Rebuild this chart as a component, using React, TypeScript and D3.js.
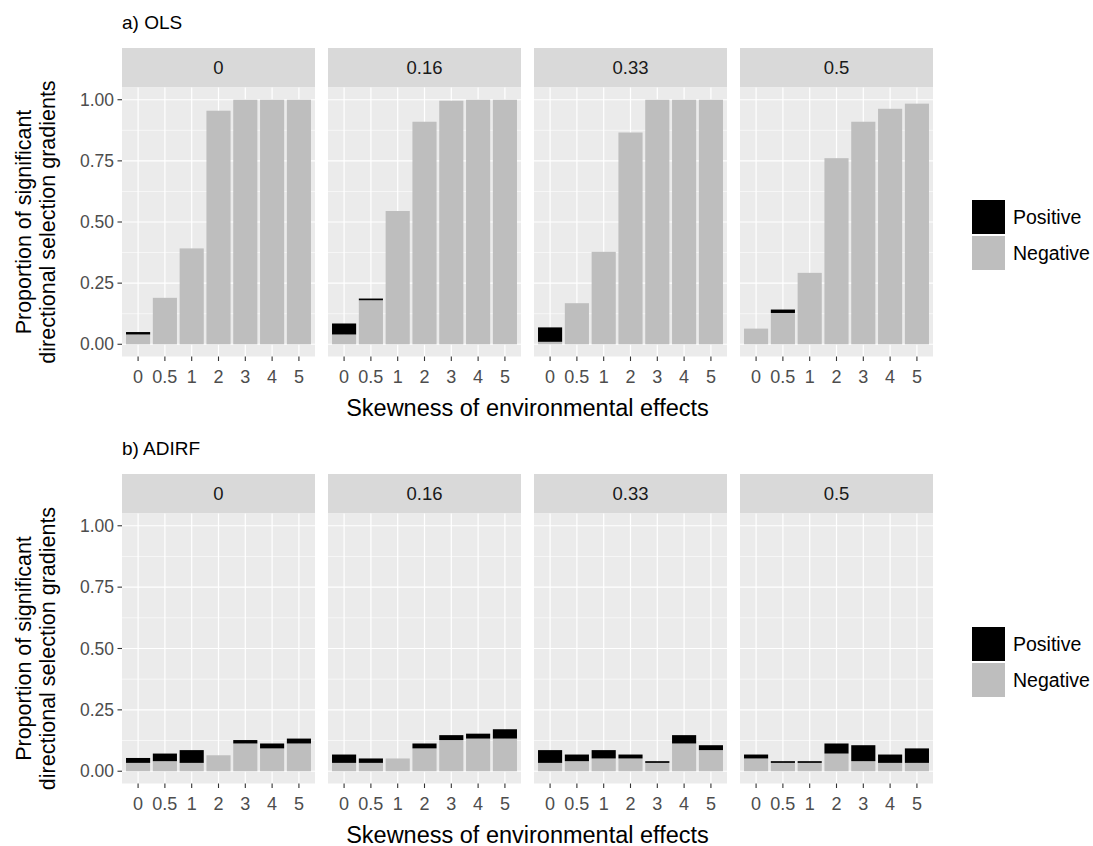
import React from "react";
import * as d3 from "d3";

const skewLevels = ["0", "0.5", "1", "2", "3", "4", "5"];
const facetLabels = ["0", "0.16", "0.33", "0.5"];
const yTicks = [0, 0.25, 0.5, 0.75, 1.0];
const yMinor = [0.125, 0.375, 0.625, 0.875];
const legendLabels = ["Positive", "Negative"];

// OLS: per facet, 7 skewness levels
const olsNegative = [
  [0.04, 0.19, 0.392, 0.955, 1.0, 1.0, 1.0],
  [0.04, 0.18, 0.545, 0.91, 0.996, 1.0, 1.0],
  [0.01, 0.168, 0.378, 0.866, 1.0, 1.0, 1.0],
  [0.064, 0.128, 0.292, 0.761, 0.91, 0.963, 0.984],
];
const olsPositive = [
  [0.01, 0, 0, 0, 0, 0, 0],
  [0.045, 0.007, 0, 0, 0, 0, 0],
  [0.059, 0, 0, 0, 0, 0, 0],
  [0, 0.014, 0, 0, 0, 0, 0],
];
// ADIRF
const adirfNegative = [
  [0.034, 0.041, 0.034, 0.065, 0.113, 0.093, 0.113],
  [0.034, 0.034, 0.052, 0.093, 0.127, 0.133, 0.133],
  [0.034, 0.041, 0.052, 0.052, 0.034, 0.113, 0.086],
  [0.052, 0.034, 0.034, 0.072, 0.041, 0.034, 0.034],
];
const adirfPositive = [
  [0.02, 0.031, 0.052, 0, 0.014, 0.02, 0.02],
  [0.034, 0.018, 0, 0.02, 0.02, 0.02, 0.038],
  [0.052, 0.027, 0.034, 0.016, 0.007, 0.034, 0.02],
  [0.016, 0.007, 0.007, 0.041, 0.065, 0.034, 0.059],
];

const FONT = "'Liberation Sans', Arial, sans-serif";
const NEG = "#BEBEBE";
const POS = "#000000";

const panelX0 = 122;
const panelW = 193;
const panelGap = 13;

function Block({ title, titleY, stripTop, plotTop, plotBottom, neg, pos, legendY }) {
  const y = d3.scaleLinear().domain([-0.05, 1.05]).range([plotBottom, plotTop]);
  const x = d3.scalePoint().domain(skewLevels).range([0, panelW]).padding(0.6);
  const step = x.step();
  const bw = step * 0.9;
  const stripH = plotTop - stripTop;
  const midY = (plotTop + plotBottom) / 2;
  const plotLeft = panelX0;
  const plotRight = panelX0 + 4 * panelW + 3 * panelGap;
  return (
    <g>
      <text x={122} y={titleY} fontSize={19} fill="#000" fontFamily={FONT}>{title}</text>
      {/* y axis title */}
      <text transform={`translate(31,${midY}) rotate(-90)`} textAnchor="middle" fontSize={21.5} fontFamily={FONT} fill="#000">
        <tspan x={0} dy={0}>Proportion of significant</tspan>
        <tspan x={0} dy={24}>directional selection gradients</tspan>
      </text>
      {/* y ticks */}
      {yTicks.map((t) => (
        <g key={t}>
          <line x1={plotLeft - 4.5} x2={plotLeft} y1={y(t)} y2={y(t)} stroke="#333" strokeWidth={1.1} />
          <text x={plotLeft - 8} y={y(t)} dy="0.35em" textAnchor="end" fontSize={17.5} fill="#4D4D4D" fontFamily={FONT}>
            {t.toFixed(2)}
          </text>
        </g>
      ))}
      {facetLabels.map((f, fi) => {
        const px = panelX0 + fi * (panelW + panelGap);
        return (
          <g key={f} transform={`translate(${px},0)`}>
            <rect x={0} y={stripTop} width={panelW} height={stripH} fill="#D9D9D9" />
            <text x={panelW / 2} y={stripTop + stripH / 2} dy="0.35em" textAnchor="middle" fontSize={18.5} fill="#1A1A1A" fontFamily={FONT}>
              {f}
            </text>
            <rect x={0} y={plotTop} width={panelW} height={plotBottom - plotTop} fill="#EBEBEB" />
            {yMinor.map((t) => (
              <line key={"m" + t} x1={0} x2={panelW} y1={y(t)} y2={y(t)} stroke="#fff" strokeWidth={0.6} />
            ))}
            {yTicks.map((t) => (
              <line key={"M" + t} x1={0} x2={panelW} y1={y(t)} y2={y(t)} stroke="#fff" strokeWidth={1.2} />
            ))}
            {skewLevels.map((s) => (
              <line key={"v" + s} x1={x(s)} x2={x(s)} y1={plotTop} y2={plotBottom} stroke="#fff" strokeWidth={1.2} />
            ))}
            {skewLevels.map((s, i) => {
              const n = neg[fi][i];
              const p = pos[fi][i];
              const cx = x(s);
              return (
                <g key={"b" + s}>
                  {n > 0 && <rect x={cx - bw / 2} width={bw} y={y(n)} height={y(0) - y(n)} fill={NEG} />}
                  {p > 0 && <rect x={cx - bw / 2} width={bw} y={y(n + p)} height={y(n) - y(n + p)} fill={POS} />}
                </g>
              );
            })}
            {skewLevels.map((s) => (
              <g key={"t" + s}>
                <line x1={x(s)} x2={x(s)} y1={plotBottom} y2={plotBottom + 4.5} stroke="#333" strokeWidth={1.1} />
                <text x={x(s)} y={plotBottom + 26} textAnchor="middle" fontSize={18} fill="#4D4D4D" fontFamily={FONT}>
                  {s}
                </text>
              </g>
            ))}
          </g>
        );
      })}
      <text x={(plotLeft + plotRight) / 2} y={plotBottom + 59} textAnchor="middle" fontSize={23.5} fill="#000" fontFamily={FONT}>
        Skewness of environmental effects
      </text>
      {/* legend */}
      {legendLabels.map((l, i) => (
        <g key={l}>
          <rect x={972} y={legendY + i * 36} width={33} height={34} fill={i === 0 ? POS : NEG} />
          <text x={1013} y={legendY + i * 36 + 17} dy="0.35em" fontSize={19.5} fill="#000" fontFamily={FONT}>
            {l}
          </text>
        </g>
      ))}
    </g>
  );
}

export default function App() {
  return (
    <svg width={1093} height={846} style={{ position: "absolute", left: 0, top: 0, background: "#fff" }}>
      <rect width={1093} height={846} fill="#fff" />
      <Block title="a) OLS" titleY={29} stripTop={48} plotTop={87.5} plotBottom={356.5} neg={olsNegative} pos={olsPositive} legendY={200} />
      <Block title="b) ADIRF" titleY={455} stripTop={474} plotTop={513.5} plotBottom={783.5} neg={adirfNegative} pos={adirfPositive} legendY={627} />
    </svg>
  );
}
